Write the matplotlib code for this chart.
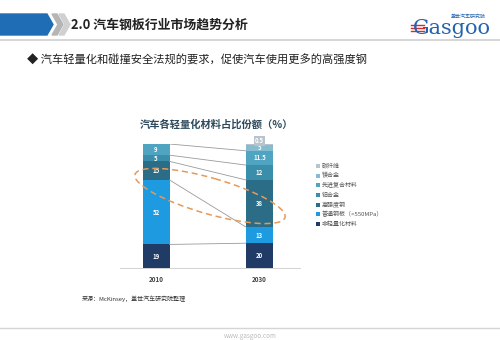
import numpy as np
import matplotlib.pyplot as plt
from matplotlib.patches import Polygon, Ellipse

plt.rcParams['font.family'] = ['Noto Sans CJK SC', 'DejaVu Sans']

years = ['2010', '2030']
materials = ['非轻量化材料', '普通钢板（<550MPa）', '高强度钢', '铝合金',
             '先进复合材料', '镁合金', '碳纤维']
share_2010 = [19, 52, 15, 5, 9, 0, 0]
share_2030 = [20, 13, 38, 12, 11.5, 5, 0.5]
colors = ['#1f3b66', '#1e9be0', '#2b6d86', '#3a8eaa', '#4ea4c1', '#86bccf', '#b9c3cd']

fig = plt.figure(figsize=(5, 3.4), dpi=100)

# chart area: 0..100% maps onto pixel rows 268..144
ax = fig.add_axes([120 / 500, 72 / 340, 180 / 500, 124 / 340])
w = 27 / 103.5
xs = np.array([0, 1])
bottoms = np.zeros(2)
tops = []
for i, name in enumerate(materials):
    vals = np.array([share_2010[i], share_2030[i]])
    ax.bar(xs, vals, w, bottom=bottoms, color=colors[i], linewidth=0)
    for j in range(2):
        if vals[j] >= 3:
            ax.text(xs[j], bottoms[j] + vals[j] / 2, '%g' % vals[j], ha='center', va='center',
                    color='white', fontsize=4.3, fontweight='bold')
    bottoms = bottoms + vals
    tops.append(bottoms.copy())

# tiny carbon fibre share gets its label above the stack
ax.text(1, 100 + 2.5, '%g' % share_2030[6], ha='center', va='center', color='white',
        fontsize=4.3, fontweight='bold', clip_on=False,
        bbox=dict(boxstyle='square,pad=0.25', fc='#b9c3cd', ec='none'))

# link the boundaries of each material present in both years
for i in range(5):
    ax.plot([w / 2, 1 - w / 2], [tops[i][0], tops[i][1]], color='#9a9a9a', lw=0.6)

ax.set_xlim(-36 / 103.5, 144 / 103.5)
ax.set_ylim(0, 100)
for s in ['top', 'right', 'left']:
    ax.spines[s].set_visible(False)
ax.spines['bottom'].set_color('#cccccc')
ax.spines['bottom'].set_linewidth(0.6)
ax.set_yticks([])
ax.set_xticks(xs)
ax.set_xticklabels(years, fontsize=4.5, fontweight='bold', color='#444444')
ax.tick_params(axis='x', length=0, pad=6)

# overlay in pixel coordinates for the slide decoration
ov = fig.add_axes([0, 0, 1, 1], zorder=5)
ov.set_xlim(0, 500)
ov.set_ylim(340, 0)
ov.axis('off')
ov.patch.set_visible(False)

ov.add_patch(Polygon([(0, 14), (47, 14), (53, 24.5), (47, 35), (0, 35)], color='#1f6db5'))
ov.add_patch(Polygon([(52, 14), (57, 14), (63, 24.5), (57, 35), (52, 35), (58, 24.5)], color='#b5b5b5'))
ov.add_patch(Polygon([(59, 14), (64, 14), (70, 24.5), (64, 35), (59, 35), (65, 24.5)], color='#d0d0d0'))
ov.text(71, 25, '2.0 汽车钢板行业市场趋势分析', fontsize=9.3, fontweight='bold',
        color='#222222', va='center')
ov.plot([0, 500], [39.5, 39.5], color='#cfcfcf', lw=1.2)

# logo
for yy in [25, 28, 31]:
    ov.plot([411, 424], [yy, yy], color='#d42b2b', lw=1.0)
ov.text(452, 29, 'Gasgoo', fontsize=15, color='#2463ad', ha='center', va='center',
        family='DejaVu Serif')
ov.text(468, 16, '盖世汽车研究院', fontsize=3.6, color='#2463ad', ha='center', va='center')

ov.text(27, 60, '◆ 汽车轻量化和碰撞安全法规的要求，促使汽车使用更多的高强度钢',
        fontsize=8.1, color='#222222', va='center')

ov.text(216, 125, '汽车各轻量化材料占比份额（%）', fontsize=7.4, fontweight='bold',
        color='#2e4a5c', ha='center', va='center')

# dashed ring around the high strength steel shares
ov.add_patch(Ellipse((210, 196), 156, 36, angle=16, fill=False, ec='#e59a5a',
                     lw=1.1, ls=(0, (4, 2.5))))

# legend, top row is the top of the stack
leg_y = np.linspace(166, 224, 7)
for k, name in enumerate(materials[::-1]):
    ov.plot(318, leg_y[k], marker='s', ms=2.2, color=colors[::-1][k], mew=0)
    ov.text(322, leg_y[k], name, fontsize=4.3, color='#555555', va='center')

ov.text(82, 299, '来源：McKinsey，盖世汽车研究院整理', fontsize=4.3, color='#333333',
        va='center', style='italic')
ov.plot([0, 500], [328, 328], color='#d5d5d5', lw=1.0)
ov.text(250, 336, 'www.gasgoo.com', fontsize=4.5, color='#bbbbbb', ha='center', va='center')

fig.savefig('out.png', dpi=100)
